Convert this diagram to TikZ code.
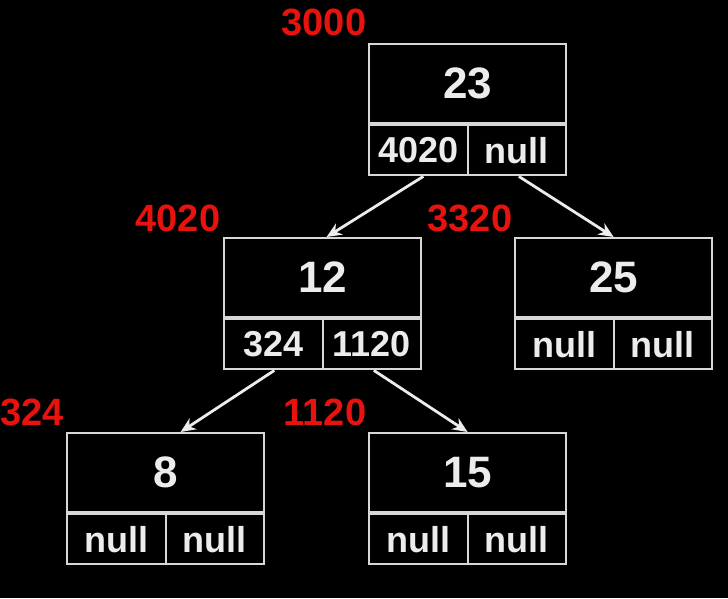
\documentclass[tikz,border=0pt]{standalone}
\usepackage{fontspec}
\setmainfont{Liberation Sans}
\usetikzlibrary{arrows.meta,calc}
\definecolor{addr}{RGB}{232,18,14}
\definecolor{fg}{RGB}{236,236,236}
\definecolor{edge}{RGB}{215,215,215}
\tikzset{
 valbox/.style={draw=edge,line width=2.2pt,minimum width=197pt,minimum height=79pt,inner sep=0pt,text=fg,font=\bfseries\fontsize{44}{44}\selectfont},
 ptrbox/.style={draw=edge,line width=2.2pt,minimum width=98.5pt,minimum height=50pt,inner sep=0pt,text=fg,font=\bfseries\fontsize{36}{36}\selectfont},
 addrlabel/.style={text=addr,font=\bfseries\fontsize{38}{38}\selectfont,inner sep=0pt},
 link/.style={draw=fg,line width=2.8pt,-{Stealth[length=15pt,width=13pt]}}
}
\newcommand\tnode[6]{%
 \node[valbox,anchor=north west] (#1) at (#2pt,-#3pt) {#4};
 \node[ptrbox,anchor=north west] (#1l) at (#1.south west) {#5};
 \node[ptrbox,anchor=north east] (#1r) at (#1.south east) {#6};
}
\begin{document}
\begin{tikzpicture}
\fill[black] (0pt,0pt) rectangle (728pt,-598pt);
\useasboundingbox (0pt,0pt) rectangle (728pt,-598pt);
\tnode{n23}{368}{43}{23}{4020}{null}
\tnode{n12}{223}{237}{12}{324}{1120}
\tnode{n25}{514}{237}{25}{null}{null}
\tnode{n8}{66}{432}{8}{null}{null}
\tnode{n15}{368}{432}{15}{null}{null}
\node[addrlabel] (a3000) at (324pt,-22pt) {3000};
\node[addrlabel] (a4020) at (178pt,-218pt) {4020};
\node[addrlabel] (a3320) at (470pt,-218pt) {3320};
\node[addrlabel] (a324) at (32pt,-412pt) {324};
\node[addrlabel] (a1120) at (325pt,-412pt) {1120};
\draw[link] ($(n23l.south)+(5pt,0)$) -- ($(n12.north)+(4pt,0)$);
\draw[link] ($(n23r.south)+(2pt,0)$) -- (n25.north);
\draw[link] ($(n12l.south)+(1pt,0)$) -- ($(n8.north)+(15pt,0)$);
\draw[link] ($(n12r.south)+(2pt,0)$) -- (n15.north);
\end{tikzpicture}
\end{document}
